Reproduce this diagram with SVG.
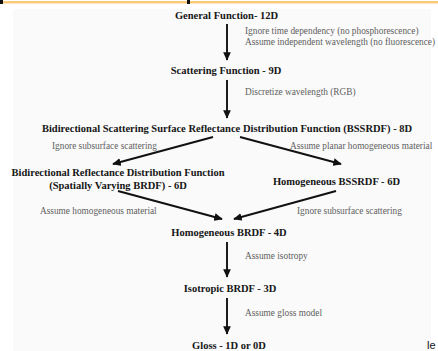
<svg xmlns="http://www.w3.org/2000/svg" width="438" height="351" viewBox="0 0 438 351">
<style>
.n{font-family:"Liberation Serif","Times New Roman",serif;font-weight:bold;font-size:10.5px;fill:#161616;text-anchor:middle}
.l{font-family:"Liberation Serif","Times New Roman",serif;font-size:9.3px;fill:#5e5e5e}
.c{stroke:#111;stroke-width:1.9;fill:none;marker-end:url(#ah)}
</style>
<defs>
<marker id="ah" viewBox="0 0 10 10" refX="9" refY="5" markerWidth="4.5" markerHeight="4.5" orient="auto" markerUnits="strokeWidth">
<path d="M0,0.5 L10,5 L0,9.5 z" fill="#111"/>
</marker>
</defs>
<rect x="0" y="0" width="438" height="351" fill="#fff"/>
<rect x="13" y="9" width="418" height="342" fill="#fafafa"/>
<rect x="0" y="1" width="438" height="2.5" fill="#fcc97a"/>
<rect x="0" y="0" width="3" height="4" fill="#111"/>
<rect x="187" y="0" width="3" height="4" fill="#111"/>
<g id="connectors">
<line class="c" x1="227" y1="24" x2="227" y2="60"/>
<line class="c" x1="227" y1="80" x2="227" y2="118"/>
<line class="c" x1="213" y1="137" x2="113" y2="164"/>
<line class="c" x1="240" y1="137" x2="341" y2="164"/>
<line class="c" x1="118" y1="191" x2="222" y2="219"/>
<line class="c" x1="336" y1="191" x2="234" y2="219"/>
<line class="c" x1="227" y1="242" x2="227" y2="277"/>
<line class="c" x1="227" y1="298" x2="227" y2="334"/>
<text class="l" x="245" y="34">Ignore time dependency (no phosphorescence)</text>
<text class="l" x="245" y="44.5">Assume independent wavelength (no fluorescence)</text>
<text class="l" x="245" y="95">Discretize wavelength (RGB)</text>
<text class="l" x="52" y="149">Ignore subsurface scattering</text>
<text class="l" x="290" y="149">Assume planar homogeneous material</text>
<text class="l" x="40" y="214">Assume homogeneous material</text>
<text class="l" x="297" y="214">Ignore subsurface scattering</text>
<text class="l" x="245" y="259">Assume isotropy</text>
<text class="l" x="245" y="316">Assume gloss model</text>
</g>
<g id="n1"><text class="n" x="226.5" y="19">General Function- 12D</text></g>
<g id="n2"><text class="n" x="226" y="74">Scattering Function - 9D</text></g>
<g id="n3"><text class="n" x="227" y="132">Bidirectional Scattering Surface Reflectance Distribution Function (BSSRDF) - 8D</text></g>
<g id="n4"><text class="n" x="118" y="176">Bidirectional Reflectance Distribution Function</text><text class="n" x="118" y="189">(Spatially Varying BRDF) - 6D</text></g>
<g id="n5"><text class="n" x="336.5" y="185">Homogeneous BSSRDF - 6D</text></g>
<g id="n6"><text class="n" x="229" y="236">Homogeneous BRDF - 4D</text></g>
<g id="n7"><text class="n" x="230" y="292">Isotropic BRDF - 3D</text></g>
<g id="n8"><text class="n" x="229" y="349">Gloss - 1D or 0D</text></g>
<text x="427" y="349" font-family="Liberation Sans, Arial, sans-serif" font-size="11" fill="#111">le</text>
</svg>
